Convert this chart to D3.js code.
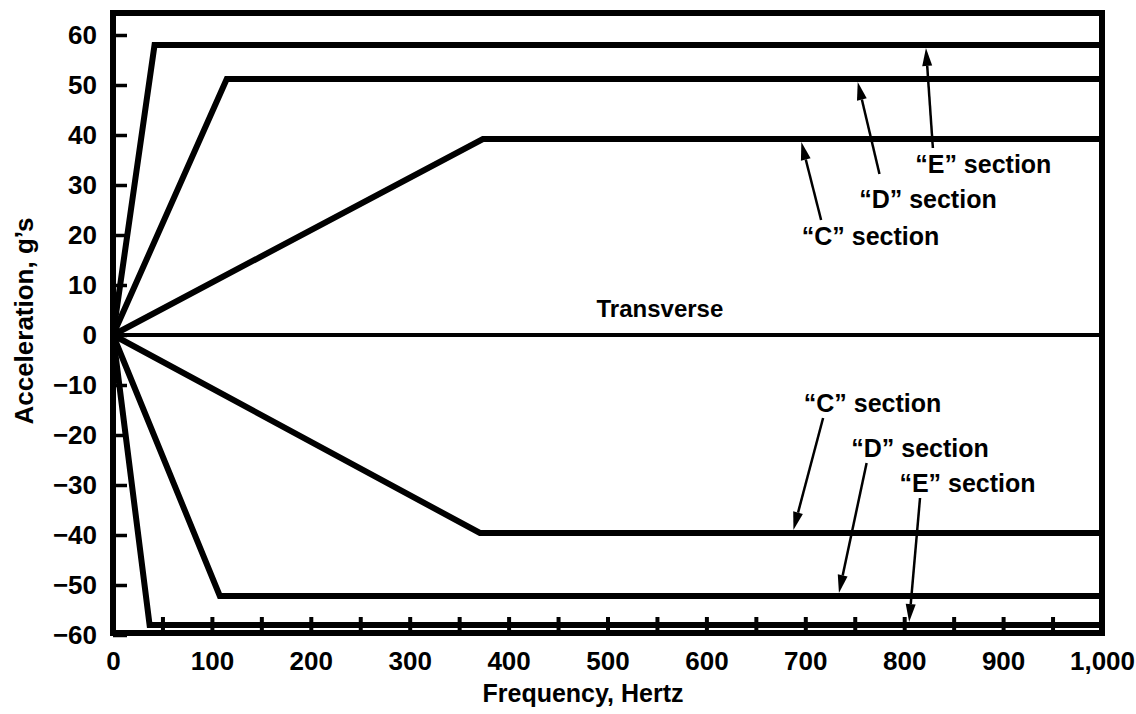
<!DOCTYPE html>
<html>
<head>
<meta charset="utf-8">
<script src="https://cdn.jsdelivr.net/npm/d3@7"></script>
<style>
  body { margin: 0; background: #fff; }
  text { font-family: "Liberation Sans", Arial, sans-serif; font-weight: bold; fill: #000; }
</style>
</head>
<body>
<svg width="1136" height="714"></svg>
<script>
// curves: [frequency Hz, acceleration g]
const eUpper = [[0, 0], [42, 58], [1000, 58]];
const dUpper = [[0, 0], [115, 51.2], [1000, 51.2]];
const cUpper = [[0, 0], [374, 39.2], [1000, 39.2]];
const transverse = [[0, 0], [1000, 0]];
const cLower = [[0, 0], [371, -39.6], [1000, -39.6]];
const dLower = [[0, 0], [108, -52.2], [1000, -52.2]];
const eLower = [[0, 0], [37, -58], [1000, -58]];

const xTicks = [0, 50, 100, 150, 200, 250, 300, 350, 400, 450, 500, 550, 600, 650, 700, 750, 800, 850, 900, 950, 1000];
const xTickLabels = [0, 100, 200, 300, 400, 500, 600, 700, 800, 900, 1000];
const yTicks = [-60, -50, -40, -30, -20, -10, 0, 10, 20, 30, 40, 50, 60];

// callouts: label, text anchor [Hz, g], arrow tail [Hz, g], arrow tip [Hz, g]
const calloutLabels = ['\u201CE\u201D section', '\u201CD\u201D section', '\u201CC\u201D section',
                       '\u201CC\u201D section', '\u201CD\u201D section', '\u201CE\u201D section'];
const calloutText = [[880, 32.4], [824, 25.4], [766, 18], [768, -15.4], [816, -24.4], [864, -31.4]];
const calloutTail = [[829, 37.4], [775, 32.2], [716, 23], [718, -16.6], [762, -25.6], [816, -32.6]];
const calloutTip = [[822, 57.4], [753, 50.6], [696, 38.6], [688, -39], [734, -51.6], [805, -57.4]];

const transverseLabel = 'Transverse';
const transverseAt = [553, 3.6];

const svg = d3.select('svg');
svg.append('rect').attr('width', 1136).attr('height', 714).attr('fill', '#fff');

const x = d3.scaleLinear().domain([0, 1000]).range([113, 1102]);
const y = d3.scaleLinear().domain([-59.6, 64.4]).range([633, 13]);

const line = d3.line().x(d => x(d[0])).y(d => y(d[1]));

// curves
const heavy = [eUpper, dUpper, cUpper, cLower, dLower, eLower];
svg.selectAll('.curve')
  .data(heavy)
  .enter()
  .append('path')
  .attr('class', 'curve')
  .attr('d', line)
  .attr('fill', 'none')
  .attr('stroke', '#000')
  .attr('stroke-width', 6)
  .attr('stroke-linejoin', 'miter');

svg.append('path')
  .attr('d', line(transverse))
  .attr('fill', 'none')
  .attr('stroke', '#000')
  .attr('stroke-width', 4);

// y axis, ticks point inward
const yAxis = d3.axisLeft(y)
  .tickValues(yTicks)
  .tickSizeInner(-14)
  .tickSizeOuter(0)
  .tickPadding(16)
  .tickFormat(d => d < 0 ? '\u2212' + Math.abs(d) : d);

const gy = svg.append('g').attr('transform', `translate(${x(0)},0)`).call(yAxis);
gy.select('.domain').remove();
gy.selectAll('line').attr('stroke-width', 3.5);
gy.selectAll('text').attr('font-size', 26).attr('font-family', null);

// x axis, ticks every 50 Hz, labels every 100
const xAxis = d3.axisBottom(x)
  .tickValues(xTicks)
  .tickSizeInner(-16)
  .tickSizeOuter(0)
  .tickPadding(19)
  .tickFormat(d => xTickLabels.includes(d) ? d3.format(',')(d) : '');

const gx = svg.append('g').attr('transform', `translate(0,${y(-59.6)})`).call(xAxis);
gx.select('.domain').remove();
gx.selectAll('line').attr('stroke-width', 4);
gx.selectAll('text').attr('font-size', 26).attr('font-family', null);

// frame
svg.append('rect')
  .attr('x', x(0))
  .attr('y', y(64.4))
  .attr('width', x(1000) - x(0))
  .attr('height', y(-59.6) - y(64.4))
  .attr('fill', 'none')
  .attr('stroke', '#000')
  .attr('stroke-width', 6);

// callout arrows
calloutLabels.forEach((label, i) => {
  const x1 = x(calloutTail[i][0]), y1 = y(calloutTail[i][1]);
  const x2 = x(calloutTip[i][0]), y2 = y(calloutTip[i][1]);
  const ang = Math.atan2(y2 - y1, x2 - x1);
  const len = 18, half = 5;
  const bx = x2 - len * Math.cos(ang), by = y2 - len * Math.sin(ang);

  svg.append('line')
    .attr('x1', x1).attr('y1', y1)
    .attr('x2', bx).attr('y2', by)
    .attr('stroke', '#000')
    .attr('stroke-width', 2.5);

  svg.append('path')
    .attr('d', `M${x2},${y2}L${bx + half * Math.sin(ang)},${by - half * Math.cos(ang)}` +
               `L${bx - half * Math.sin(ang)},${by + half * Math.cos(ang)}Z`)
    .attr('fill', '#000');

  svg.append('text')
    .attr('x', x(calloutText[i][0]))
    .attr('y', y(calloutText[i][1]))
    .attr('text-anchor', 'middle')
    .attr('font-size', 25)
    .text(label);
});

svg.append('text')
  .attr('x', x(transverseAt[0]))
  .attr('y', y(transverseAt[1]))
  .attr('text-anchor', 'middle')
  .attr('font-size', 24)
  .text(transverseLabel);

// axis titles
svg.append('text')
  .attr('x', 583)
  .attr('y', 702)
  .attr('text-anchor', 'middle')
  .attr('font-size', 25)
  .text('Frequency, Hertz');

svg.append('text')
  .attr('transform', 'translate(33,321) rotate(-90)')
  .attr('text-anchor', 'middle')
  .attr('font-size', 26)
  .text('Acceleration, g\u2019s');
</script>
</body>
</html>
